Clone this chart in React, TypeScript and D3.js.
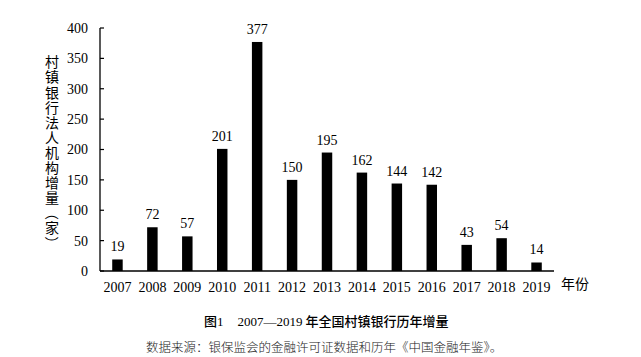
import React from "react";
import * as d3 from "d3";

const years = ["2007","2008","2009","2010","2011","2012","2013","2014","2015","2016","2017","2018","2019"];
const increments = [19, 72, 57, 201, 377, 150, 195, 162, 144, 142, 43, 54, 14];
const yTicks = [0, 50, 100, 150, 200, 250, 300, 350, 400];
const yTitle = "村镇银行法人机构增量（家）";
const xUnit = "年份";
const titleRange = "2007—2019";
const titleText = "年全国村镇银行历年增量";
const sourceText = "数据来源：银保监会的金融许可证数据和历年《中国金融年鉴》。";

const W = 641, H = 357;
const left = 100, right = 554, top = 28, bottom = 271;
const serif = "'Liberation Serif', 'Times New Roman', serif";
const cjk = "'Noto Sans CJK SC', sans-serif";

export default function App() {
  const x = d3.scaleBand<string>().domain(years).range([left, right]).paddingInner(0.7).paddingOuter(0.35);
  const y = d3.scaleLinear().domain([0, 400]).range([bottom, top]);
  const titleChars = Array.from(yTitle);

  return (
    <svg width={W} height={H} style={{ position: "absolute", left: 0, top: 0, background: "#fff" }}>
      <rect x={0} y={0} width={W} height={H} fill="#fff" />
      {years.map((yr, i) => (
        <rect key={yr} x={x(yr)} y={y(increments[i])} width={x.bandwidth()} height={y(0) - y(increments[i])} fill="#000" />
      ))}
      {years.map((yr, i) => (
        <text key={"v" + yr} x={(x(yr) as number) + x.bandwidth() / 2} y={y(increments[i]) - 8}
          textAnchor="middle" fontFamily={serif} fontSize={14} fill="#000">{increments[i]}</text>
      ))}
      <line x1={left} x2={left} y1={top} y2={bottom} stroke="#000" strokeWidth={1.3} />
      {yTicks.map(t => (
        <g key={"t" + t}>
          <line x1={left} x2={left + 4} y1={y(t)} y2={y(t)} stroke="#000" strokeWidth={1.2} />
          <text x={left - 12} y={y(t)} dy="0.35em" textAnchor="end" fontFamily={serif} fontSize={14} fill="#000">{t}</text>
        </g>
      ))}
      <line x1={left} x2={right} y1={bottom} y2={bottom} stroke="#000" strokeWidth={1.3} />
      {years.map(yr => (
        <text key={"x" + yr} x={(x(yr) as number) + x.bandwidth() / 2} y={292} textAnchor="middle"
          fontFamily={serif} fontSize={14} fill="#000">{yr}</text>
      ))}
      <text x={561} y={289} fontFamily={cjk} fontSize={14} fill="#000">{xUnit}</text>
      {titleChars.map((ch, i) => {
        const cy = 62 + i * 15.1;
        const rot = ch === "（" || ch === "）";
        return (
          <text key={"yt" + i} x={52} y={cy} dy="0.38em" textAnchor="middle" fontFamily={cjk} fontSize={14} fill="#000"
            transform={rot ? `rotate(90, 52, ${cy})` : undefined}>{ch}</text>
        );
      })}
      <text x={204} y={326} fontSize={13} fill="#000">
        <tspan fontFamily={cjk} fontWeight={500}>图</tspan>
        <tspan fontFamily={serif} fontWeight={400}>1</tspan>
        <tspan fontFamily={serif} fontWeight={400} dx={14}>{titleRange}</tspan>
        <tspan fontFamily={cjk} fontWeight={500} dx={3}>{titleText}</tspan>
      </text>
      <text x={146} y={352} fontFamily={cjk} fontSize={12.5} fontWeight={300} fill="#222">{sourceText}</text>
    </svg>
  );
}
